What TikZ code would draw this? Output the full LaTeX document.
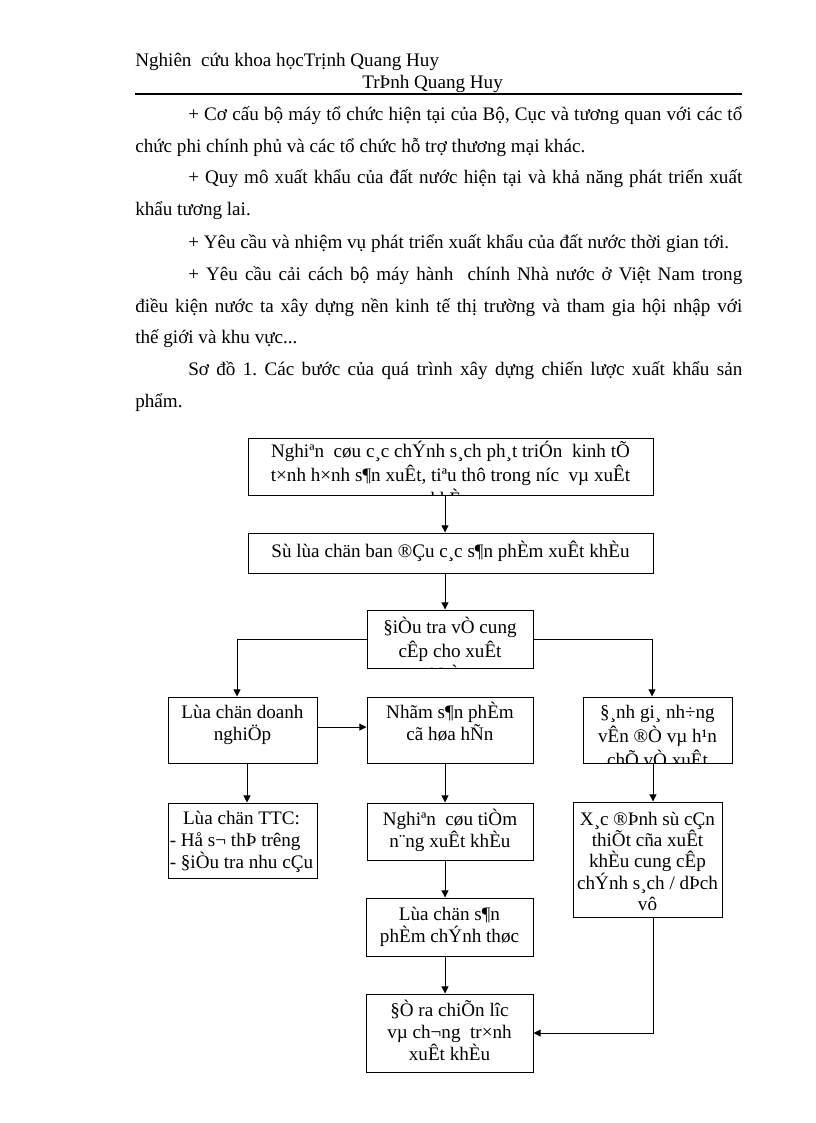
\documentclass[tikz,border=0pt]{standalone}
\usepackage{fontspec}
\setmainfont{Liberation Serif}
\usetikzlibrary{arrows.meta,calc}
\newlength\px
\setlength\px{0.2574mm}
\begin{document}
\begin{tikzpicture}[x=0.2574mm, y=-0.2574mm,
  boxst/.style 2 args={draw, line width=0.7pt, inner sep=0pt, minimum width=#1\px, minimum height=#2\px},
  txt/.style={inner sep=0pt, align=center, font={\fontsize{14pt}{#1}\selectfont\lineskiplimit-30pt\relax}},
  pline/.style={inner sep=0pt, anchor=base west, font={\fontsize{14pt}{17pt}\selectfont\frenchspacing}},
  arr/.style={line width=0.7pt, -{Triangle[length=5.2pt,width=5pt]}}]
\useasboundingbox (0,0) rectangle (816,1123);
\fill[white] (0,0) rectangle (816,1123);

% header
\node[pline] (h1) at (135,66) {Nghiên\ \ cứu khoa họcTrịnh Quang Huy};
\node[pline] (h2) at (362,88) {TrÞnh Quang Huy};
\draw[line width=1.4pt] (135,94) -- (742,94);

% paragraphs
\node[pline] (p1) at (188,120) {\makebox[554\px][s]{+ Cơ cấu bộ máy tổ chức hiện tại của Bộ, Cục và tương quan với các tổ}};
\node[pline] (p2) at (135,152) {chức phi chính phủ và các tổ chức hỗ trợ thương mại khác.};
\node[pline] (p3) at (188,183) {\makebox[554\px][s]{+ Quy mô xuất khẩu của đất nước hiện tại và khả năng phát triển xuất}};
\node[pline] (p4) at (135,215) {khẩu tương lai.};
\node[pline] (p5) at (188,248) {+ Yêu cầu và nhiệm vụ phát triển xuất khẩu của đất nước thời gian tới.};
\node[pline] (p6) at (188,280) {\makebox[554\px][s]{+ Yêu cầu cải cách bộ máy hành\ \ chính Nhà nước ở Việt Nam trong}};
\node[pline] (p7) at (135,312) {\makebox[607\px][s]{điều kiện nước ta xây dựng nền kinh tế thị trường và tham gia hội nhập với}};
\node[pline] (p8) at (135,343) {thế giới và khu vực...};
\node[pline] (p9) at (188,375) {\makebox[554\px][s]{Sơ đồ 1. Các bước của quá trình xây dựng chiến lược xuất khẩu sản}};
\node[pline] (p10) at (135,407) {phẩm.};

% boxes
\node[boxst={405}{57}] (b1) at (450.5,466.5) {};
\node[boxst={405}{40}] (b2) at (450.5,553) {};
\node[boxst={166}{58}] (b3) at (450,639) {};
\node[boxst={149}{66}] (b4) at (242.5,730) {};
\node[boxst={166}{66}] (b5) at (450,730) {};
\node[boxst={149}{66}] (b6) at (657.5,730) {};
\node[boxst={149}{75}] (b7) at (242.5,840.5) {};
\node[boxst={166}{57}] (b8) at (450,831.5) {};
\node[boxst={149}{115}] (b9) at (647.5,859.5) {};
\node[boxst={167}{58}] (b10) at (449.5,927) {};
\node[boxst={167}{78}] (b11) at (449.5,1033) {};

% box texts
\begin{scope}
\clip (b1.south west) rectangle (b1.north east);
\node[txt=17.58pt] (t1) at (450.5,477) {\strut Nghiªn\ \ cøu c¸c chÝnh s¸ch ph¸t triÓn\ \ kinh tÕ\\\strut t×nh h×nh s¶n xuÊt, tiªu thô trong níc\ \ vµ xuÊt\\\strut khÈu};
\end{scope}
\node[txt=17.58pt] (t2) at (450.5,553) {\strut Sù lùa chän ban ®Çu c¸c s¶n phÈm xuÊt khÈu};
\begin{scope}
\clip (b3.south west) rectangle (b3.north east);
\node[txt=17.58pt] (t3) at (450,653) {\strut §iÒu tra vÒ cung\\\strut cÊp cho xuÊt\\\strut khÈu};
\end{scope}
\node[txt=16.11pt] (t4) at (242.5,725) {\strut Lùa chän doanh\\\strut nghiÖp};
\node[txt=16.11pt] (t5) at (450,725) {\strut Nhãm s¶n phÈm\\\strut cã høa hÑn};
\begin{scope}
\clip (b6.south west) rectangle (b6.north east);
\node[txt=17.58pt] (t6) at (657.5,738) {\strut §¸nh gi¸ nh÷ng\\\strut vÊn ®Ò vµ h¹n\\\strut chÕ vÒ xuÊt};
\end{scope}
\node[inner sep=0pt, anchor=west, font={\fontsize{14pt}{15.75pt}\selectfont}] (t7) at (169.5,842.5)
  {\begin{tabular}{@{}l@{}}\multicolumn{1}{@{}c@{}}{Lùa chän TTC:}\\- Hå s¬ thÞ trêng\\- §iÒu tra nhu cÇu\end{tabular}};
\node[txt=16.11pt] (t8) at (450,832) {\strut Nghiªn\ \ cøu tiÒm\\\strut n¨ng xuÊt khÈu};
\node[txt=15.56pt] (t9) at (647.5,863.5) {\strut X¸c ®Þnh sù cÇn\\\strut thiÕt cña xuÊt\\\strut khÈu cung cÊp\\\strut chÝnh s¸ch / dÞch\\\strut vô};
\node[txt=16.11pt] (t10) at (449.5,927) {\strut Lùa chän s¶n\\\strut phÈm chÝnh thøc};
\node[txt=16.11pt] (t11) at (449.5,1034) {\strut §Ò ra chiÕn lîc\\\strut vµ ch¬ng\ \ tr×nh\\\strut xuÊt khÈu};

% connectors
\draw[arr] ([xshift=-5.5\px]b1.south) -- ([xshift=-5.5\px]b2.north);
\draw[arr] ([xshift=-5.5\px]b2.south) -- ([xshift=-5.5\px]b2.south |- b3.north);
\draw[arr] (b3.west) -| ([xshift=-5.5\px]b4.north);
\draw[arr] (b3.east) -| ([xshift=-5.5\px]b6.north);
\draw[arr] ([yshift=3\px]b4.east) -- ([yshift=3\px]b4.east -| b5.west);
\draw[arr] ([xshift=4.5\px]b4.south) -- ([xshift=4.5\px]b4.south |- b7.north);
\draw[arr] ([xshift=-5\px]b5.south) -- ([xshift=-5\px]b5.south |- b8.north);
\draw[arr] ([xshift=-4.5\px]b6.south) -- ([xshift=-4.5\px]b6.south |- b9.north);
\draw[arr] ([xshift=-5\px]b8.south) -- ([xshift=-5\px]b8.south |- b10.north);
\draw[arr] ([xshift=-4.5\px]b10.south) -- ([xshift=-4.5\px]b10.south |- b11.north);
\draw[arr] ([xshift=5.5\px]b9.south) |- (b11.east);
\end{tikzpicture}
\end{document}
